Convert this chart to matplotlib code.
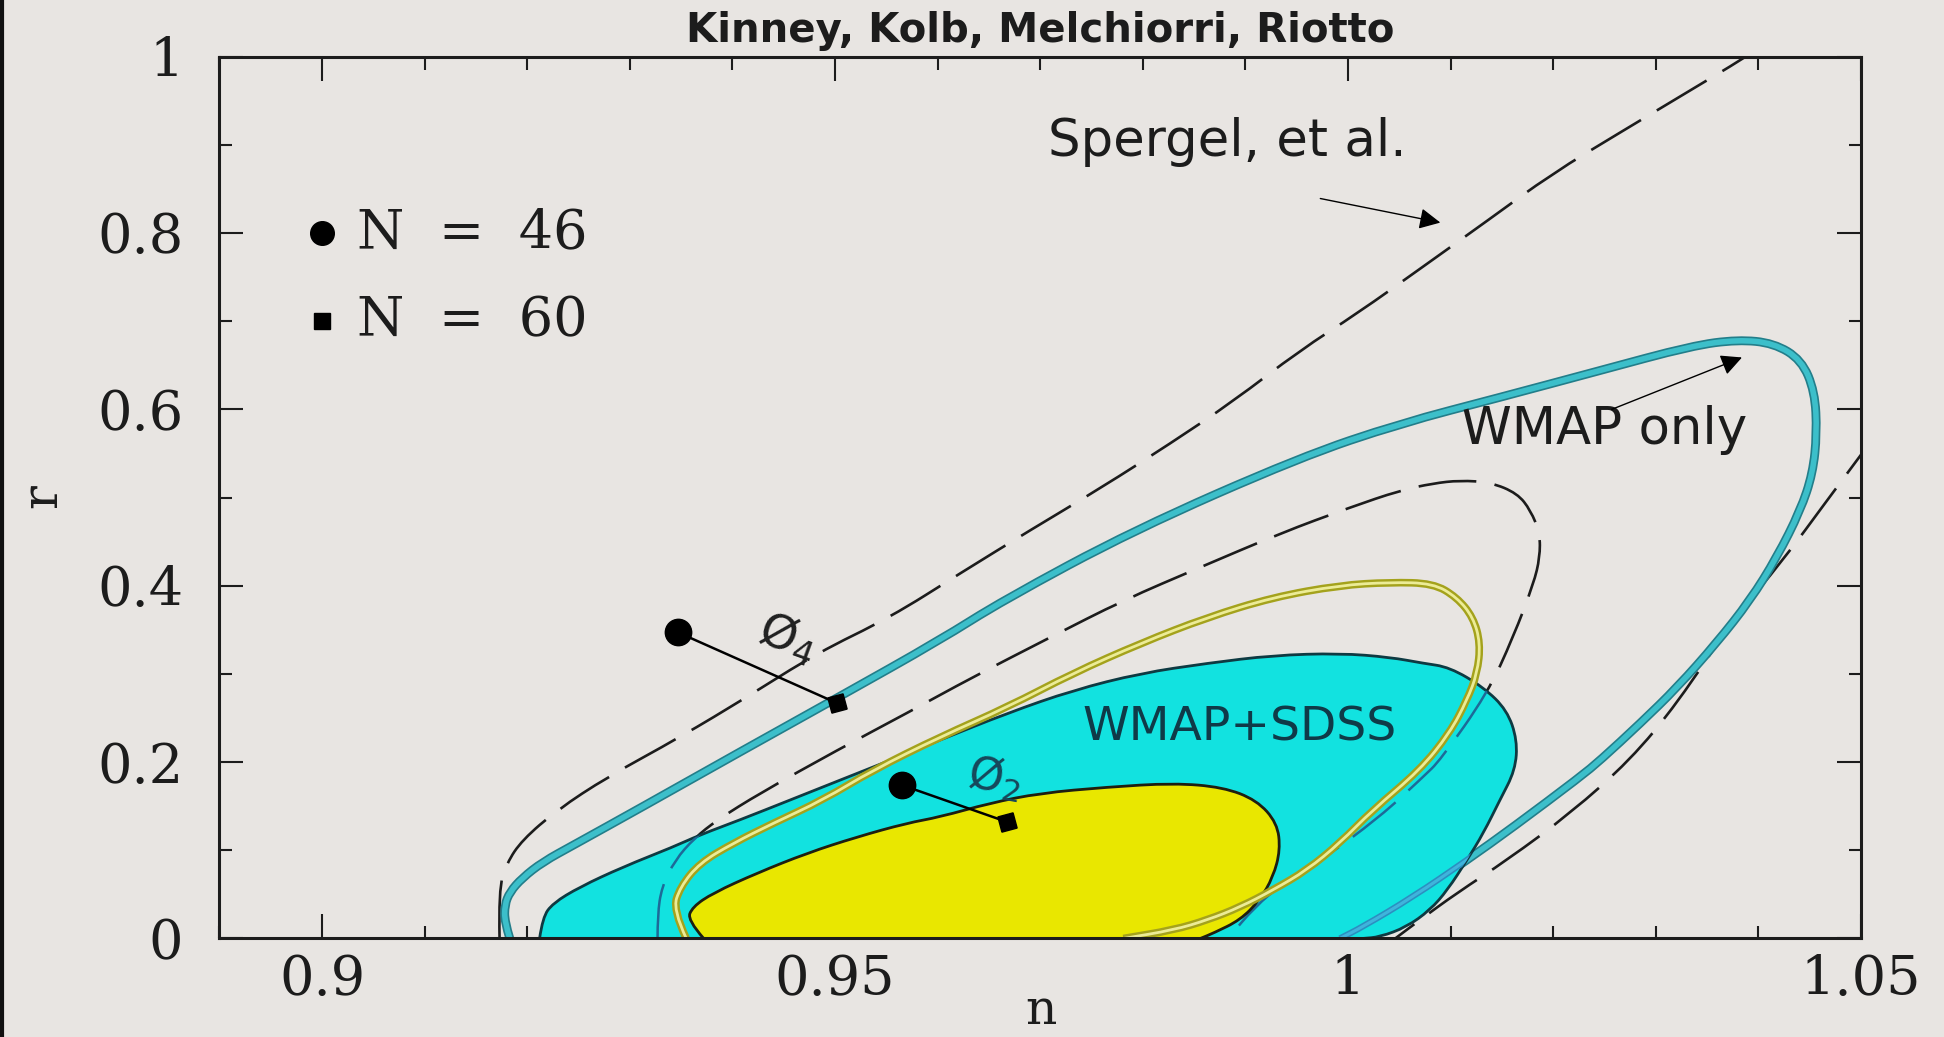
import matplotlib
matplotlib.use("Agg")
import matplotlib.pyplot as plt
from matplotlib.path import Path
from matplotlib.patches import PathPatch
from matplotlib.lines import Line2D
import numpy as np

# Spergel et al. 95% contour: left branch runs out through the top of the frame
spergel_left_n = [0.9173, 0.9172, 0.9180, 0.9195, 0.9229, 0.9278, 0.9349, 0.9414, 0.9482,
                  0.9554, 0.9622, 0.9690, 0.9760, 0.9827, 0.9888, 0.9953, 1.0009, 1.0072,
                  1.0136, 1.0199, 1.0265, 1.0333, 1.0387, 1.0400]
spergel_left_r = [0.0, 0.055, 0.0855, 0.1116, 0.1456, 0.1830, 0.2283, 0.2736, 0.3234,
                  0.3642, 0.4141, 0.4628, 0.5115, 0.5614, 0.6090, 0.6667, 0.7087, 0.7608,
                  0.8140, 0.8672, 0.9137, 0.9612, 0.9989, 1.01]
# ... and comes back in through the right edge
spergel_right_n = [1.0520, 1.0496, 1.0467, 1.0424, 1.0375, 1.0321, 1.0275, 1.0217, 1.0155,
                   1.0106, 1.0070, 1.0046]
spergel_right_r = [0.580, 0.5421, 0.4968, 0.4288, 0.3608, 0.2668, 0.2022, 0.1422, 0.0889,
                   0.0515, 0.021, 0.0]

# Spergel et al. 68% contour
spergel_inner_n = [0.9327, 0.9327, 0.9331, 0.9344, 0.9363, 0.9385, 0.9427, 0.9502, 0.9570,
                   0.9634, 0.9710, 0.9781, 0.9856, 0.9934, 1.0002, 1.0051, 1.0083, 1.0109,
                   1.0139, 1.0165, 1.0178, 1.0187, 1.0187, 1.0181, 1.0161, 1.0136, 1.0090,
                   1.0073, 1.0031, 0.9970, 0.9937, 0.9909, 0.9883]
spergel_inner_r = [0.0, 0.0266, 0.0583, 0.0889, 0.1139, 0.1343, 0.1648, 0.2135, 0.2555,
                   0.2962, 0.3416, 0.3835, 0.4209, 0.4594, 0.4888, 0.5081, 0.5160, 0.5194,
                   0.5172, 0.5047, 0.4854, 0.4594, 0.4322, 0.4027, 0.3416, 0.2781, 0.2022,
                   0.1830, 0.1377, 0.0855, 0.0629, 0.0357, 0.0]

# WMAP only, 95%
wmap_n = [0.9183, 0.9178, 0.9178, 0.9183, 0.9195, 0.9215, 0.9245, 0.9310, 0.9407, 0.9505,
          0.9602, 0.9664, 0.9791, 0.9953, 1.0051, 1.0148, 1.0246, 1.0335, 1.0380, 1.0415,
          1.0442, 1.0455, 1.0457, 1.0453, 1.0441, 1.0418, 1.0392, 1.0359, 1.0321, 1.0285,
          1.0246, 1.0226, 1.0161, 1.0116, 1.0063, 1.0014, 0.9992]
wmap_r = [0.0, 0.0187, 0.038, 0.0527, 0.0685, 0.0867, 0.1059, 0.1478, 0.2113, 0.2747,
          0.3382, 0.3835, 0.4628, 0.5455, 0.5840, 0.6135, 0.6441, 0.6720, 0.6790, 0.6750,
          0.6560, 0.6200, 0.5727, 0.5274, 0.4854, 0.4322, 0.3835, 0.3348, 0.2849, 0.2441,
          0.2022, 0.1830, 0.1263, 0.0889, 0.0470, 0.0130, 0.0]

# WMAP only, 68% (yellow double line)
wmap68_n = [0.9355, 0.9342, 0.9349, 0.9368, 0.9401, 0.9440, 0.9488, 0.9537, 0.9602, 0.9668,
            0.9732, 0.9798, 0.9863, 0.9927, 0.9992, 1.0041, 1.0083, 1.0106, 1.0122, 1.0129,
            1.0126, 1.0116, 1.0099, 1.0070, 1.0024, 0.9992, 0.9960, 0.9927, 0.9895, 0.9863,
            0.9830, 0.9781]
wmap68_r = [0.0, 0.0323, 0.0583, 0.0855, 0.1082, 0.1308, 0.1569, 0.1909, 0.2283, 0.2623,
            0.3008, 0.3348, 0.3642, 0.3869, 0.4005, 0.4039, 0.4027, 0.3869, 0.3642, 0.3348,
            0.3008, 0.2702, 0.2328, 0.1909, 0.1456, 0.1082, 0.0776, 0.055, 0.0357, 0.021,
            0.0096, 0.0]

# WMAP+SDSS 95% (cyan) and 68% (yellow) regions
sdss95_n = [0.9212, 0.9215, 0.9225, 0.9251, 0.9293, 0.9342, 0.9368, 0.9407, 0.9456, 0.9505,
            0.9554, 0.9602, 0.9668, 0.9732, 0.9798, 0.9863, 0.9927, 0.9992, 1.0041, 1.0073,
            1.0099, 1.0132, 1.0155, 1.0165, 1.0163, 1.0148, 1.0132, 1.0116, 1.0097, 1.0080,
            1.0057, 1.0031, 1.0014]
sdss95_r = [0.0, 0.024, 0.040, 0.0583, 0.081, 0.1037, 0.1173, 0.1343, 0.1569, 0.1796,
            0.2022, 0.2249, 0.2555, 0.2815, 0.3008, 0.3121, 0.3211, 0.3234, 0.3189, 0.3121,
            0.3076, 0.2849, 0.2589, 0.2249, 0.1909, 0.1569, 0.1195, 0.0889, 0.055, 0.0323,
            0.013, 0.0017, 0.0]
sdss68_n = [0.9372, 0.9356, 0.9361, 0.9381, 0.9424, 0.9473, 0.9521, 0.9570, 0.9602, 0.9651,
            0.9700, 0.9765, 0.9830, 0.9878, 0.9911, 0.9931, 0.9934, 0.9927, 0.9914, 0.9895,
            0.9869, 0.9856]
sdss68_r = [0.0, 0.021, 0.0357, 0.0515, 0.0742, 0.0969, 0.1150, 0.1308, 0.1377, 0.1535,
            0.1648, 0.1716, 0.1762, 0.1716, 0.1569, 0.1308, 0.1003, 0.0697, 0.0436, 0.021,
            0.0062, 0.0]

# model predictions, N = 46 (circle) and N = 60 (square)
phi4_n = [0.9347, 0.9502]
phi4_r = [0.347, 0.2668]
phi2_n = [0.9565, 0.9668]
phi2_r = [0.174, 0.132]

xticks = [0.9, 0.95, 1.0, 1.05]
xtick_labels = ["0.9", "0.95", "1", "1.05"]
yticks = [0, 0.2, 0.4, 0.6, 0.8, 1.0]
ytick_labels = ["0", "0.2", "0.4", "0.6", "0.8", "1"]

BG = "#e8e5e2"
INK = "#1c1c1c"


def smooth_path(xs, ys, close=False):
    # quadratic bezier through the midpoints, so the contours come out round
    pts = np.column_stack([xs, ys])
    verts = [pts[0]]
    codes = [Path.MOVETO]
    for i in range(1, len(pts) - 1):
        verts += [pts[i], (pts[i] + pts[i + 1]) / 2]
        codes += [Path.CURVE3, Path.CURVE3]
    verts.append(pts[-1])
    codes.append(Path.LINETO)
    if close:
        verts.append(pts[0])
        codes.append(Path.CLOSEPOLY)
    return Path(verts, codes)


def outline(ax, path, z, clip=None, **kw):
    p = PathPatch(path, fill=False, zorder=z, capstyle="butt", joinstyle="round", **kw)
    ax.add_patch(p)
    if clip is not None:
        p.set_clip_path(clip)
    return p


fig = plt.figure(figsize=(19.44, 10.37), dpi=100, facecolor=BG)
ax = fig.add_axes([0.1129, 0.0950, 0.8444, 0.8505])
ax.set_facecolor(BG)
ax.set_xlim(0.89, 1.05)
ax.set_ylim(0, 1)

dash = (0, (22, 7))
sp_left = smooth_path(spergel_left_n, spergel_left_r)
sp_right = smooth_path(spergel_right_n, spergel_right_r)
sp_inner = smooth_path(spergel_inner_n, spergel_inner_r)
wmap = smooth_path(wmap_n, wmap_r)
wmap68 = smooth_path(wmap68_n, wmap68_r)
sdss95 = smooth_path(sdss95_n, sdss95_r, close=True)
sdss68 = smooth_path(sdss68_n, sdss68_r, close=True)

# dashed Spergel contours and WMAP-only ring underneath the filled regions
for p in (sp_left, sp_right, sp_inner):
    outline(ax, p, 2, ec=INK, lw=1.9, ls=dash)
outline(ax, wmap, 3, ec="#237e8a", lw=6.4)
outline(ax, wmap, 3.1, ec="#3cbfca", lw=4.0)

cyan = PathPatch(sdss95, fc="#12e2e0", ec="#0e3a42", lw=2.0, zorder=4)
ax.add_patch(cyan)
# lines running under the cyan region show through in blue
for p in (sp_right, sp_inner):
    outline(ax, p, 4.5, clip=cyan, ec="#1d6a98", lw=1.8, ls=dash)
outline(ax, wmap, 4.5, clip=cyan, ec="#2b8fc0", lw=4.5)
outline(ax, wmap, 4.6, clip=cyan, ec="#3fb4dc", lw=2.2)

ax.add_patch(PathPatch(sdss68, fc="#e9e700", ec="#1e1e10", lw=2.0, zorder=5))

outline(ax, wmap68, 6, ec="#a4a21c", lw=5.5)
outline(ax, wmap68, 6.1, ec="#ecec96", lw=2.0)

# phi^4 and phi^2 predictions
for n, r in ((phi4_n, phi4_r), (phi2_n, phi2_r)):
    ax.plot(n, r, color="black", lw=1.8, zorder=7)
    ax.plot(n[0], r[0], "o", ms=19, color="black", zorder=8)
    ax.plot(n[1], r[1], marker=(4, 0, 60), ms=16, color="black", ls="none", zorder=8)

ax.text(0.9454, 0.3404, "Ø$_4$", fontsize=34, rotation=-20, ha="center", va="center",
        color="#202020", zorder=8)
ax.text(0.9656, 0.1818, "Ø$_2$", fontsize=32, rotation=-10, ha="center", va="center",
        color="#17475a", zorder=8)

# legend
ax.plot(0.9, 0.8, "o", ms=17, color="black", clip_on=False)
ax.plot(0.9, 0.7, "s", ms=11, color="black", clip_on=False)
ax.text(0.9034, 0.8, "N  =  46", family="DejaVu Serif", fontsize=39, va="center",
        color=INK)
ax.text(0.9034, 0.7, "N  =  60", family="DejaVu Serif", fontsize=39, va="center",
        color=INK)

ax.text(0.9894, 0.2385, "WMAP+SDSS", fontsize=34, ha="center", va="center",
        color="#0f3a48", zorder=8)

ax.text(0.9882, 0.8876, "Spergel, et al.", fontsize=37, ha="center", va="baseline",
        color=INK)
ax.annotate("", xy=(1.0090, 0.8117), xytext=(0.9973, 0.839),
            arrowprops=dict(arrowstyle="-|>", color="black", lw=1.0, mutation_scale=32,
                            shrinkA=0, shrinkB=0))
ax.text(1.0250, 0.561, "WMAP only", fontsize=37, ha="center", va="baseline",
        color=INK)
ax.annotate("", xy=(1.0384, 0.6588), xytext=(1.0257, 0.5999),
            arrowprops=dict(arrowstyle="-|>", color="black", lw=1.0, mutation_scale=32,
                            shrinkA=0, shrinkB=0))

# frame and ticks
for s in ax.spines.values():
    s.set_linewidth(2.2)
    s.set_color(INK)
    s.set_zorder(10)
ax.set_xticks(xticks)
ax.set_xticklabels(xtick_labels)
ax.set_yticks(yticks)
ax.set_yticklabels(ytick_labels)
ax.set_xticks(np.arange(0.89, 1.05, 0.01), minor=True)
ax.set_yticks(np.arange(0.1, 1.0, 0.2), minor=True)
ax.tick_params(which="both", direction="in", top=True, right=True, width=1.5,
               color=INK)
ax.tick_params(which="major", length=17)
ax.tick_params(which="minor", length=9)
ax.tick_params(axis="x", which="major", pad=11)
ax.tick_params(axis="y", which="major", pad=26)
for lab in ax.get_xticklabels() + ax.get_yticklabels():
    lab.set_family("DejaVu Serif")
    lab.set_fontsize(39)
    lab.set_color(INK)

fig.text(0.5353, 0.970, "Kinney, Kolb, Melchiorri, Riotto", fontsize=29,
         fontweight="bold", ha="center", va="center", color=INK)
fig.text(1041 / 1944, 1 - 1024 / 1037, "n", family="DejaVu Serif", fontsize=35,
         ha="center", va="baseline", color=INK)
fig.text(43 / 1944, 1 - 496 / 1037, "r", family="DejaVu Serif", fontsize=36,
         rotation=90, ha="center", va="center", color=INK)

fig.add_artist(Line2D([0.001, 0.001], [0, 1], transform=fig.transFigure,
                      color="#111111", lw=3))

fig.savefig("out.png", dpi=100, facecolor=BG)
